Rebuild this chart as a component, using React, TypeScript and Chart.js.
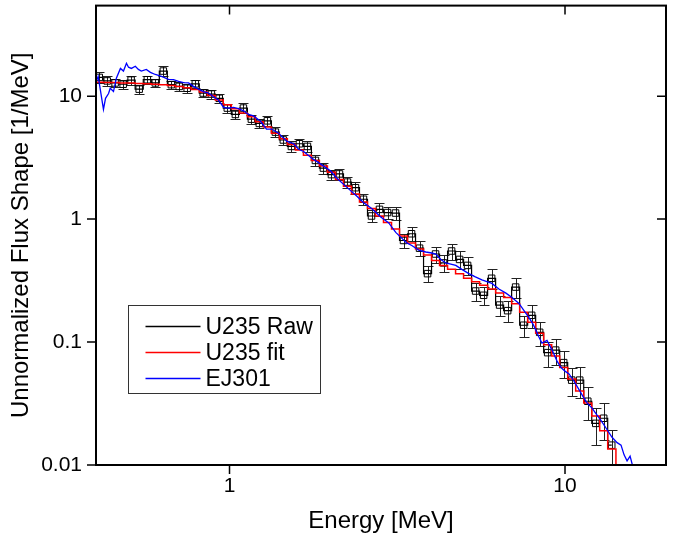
import React, { useEffect, useRef } from "react";
import { Chart, registerables } from "chart.js";

Chart.register(...registerables);

const FONT = '"Liberation Sans", Arial, sans-serif';

// ---- data ----
const binEnergy = [
  0.409, 0.432, 0.456, 0.482, 0.509, 0.538, 0.569, 0.601, 0.635, 0.671,
  0.708, 0.748, 0.791, 0.835, 0.883, 0.932, 0.985, 1.041, 1.1, 1.162,
  1.227, 1.297, 1.37, 1.447, 1.529, 1.616, 1.707, 1.803, 1.905, 2.013,
  2.127, 2.247, 2.374, 2.508, 2.65, 2.799, 2.958, 3.125, 3.301, 3.488,
  3.685, 3.893, 4.113, 4.345, 4.591, 4.85, 5.124, 5.414, 5.72, 6.043,
  6.384, 6.745, 7.126, 7.529, 7.954, 8.403, 8.878, 9.38, 9.91, 10.47,
  11.06, 11.69, 12.35, 13.04, 13.78,
];

const rawFlux = [
  14.2, 13.3, 12.8, 12.5, 13.5, 11.4, 13.6, 12.8, 16.0, 12.4,
  12.0, 11.6, 12.6, 10.6, 10.4, 9.6, 8.0, 7.1, 8.0, 6.5,
  6.0, 6.3, 5.1, 4.4, 3.9, 4.1, 3.9, 3.0, 2.6, 2.3,
  2.33, 2.0, 1.8, 1.45, 1.06, 1.2, 1.13, 1.12, 0.67, 0.76,
  0.58, 0.36, 0.52, 0.44, 0.55, 0.47, 0.42, 0.26, 0.24, 0.33,
  0.2, 0.18, 0.28, 0.137, 0.165, 0.12, 0.082, 0.086, 0.068, 0.049,
  0.049, 0.033, 0.0218, 0.024, 0.0145,
];

const rawRelErr = [
  0.1, 0.09, 0.08, 0.08, 0.08, 0.08, 0.08, 0.08, 0.09, 0.08,
  0.08, 0.08, 0.08, 0.08, 0.08, 0.08, 0.08, 0.09, 0.09, 0.09,
  0.09, 0.09, 0.09, 0.09, 0.1, 0.1, 0.1, 0.1, 0.1, 0.1,
  0.1, 0.11, 0.11, 0.11, 0.11, 0.12, 0.12, 0.12, 0.13, 0.13,
  0.14, 0.15, 0.15, 0.15, 0.15, 0.16, 0.16, 0.17, 0.17, 0.18,
  0.18, 0.19, 0.19, 0.2, 0.21, 0.22, 0.23, 0.24, 0.25, 0.26,
  0.28, 0.3, 0.33, 0.33, 0.33,
];

const fitEnergy = [
  0.39, 0.409, 0.432, 0.456, 0.482, 0.509, 0.538, 0.569, 0.601, 0.635, 0.671,
  0.708, 0.748, 0.791, 0.835, 0.883, 0.932, 0.985, 1.041, 1.1, 1.162,
  1.227, 1.297, 1.37, 1.447, 1.529, 1.616, 1.707, 1.803, 1.905, 2.013,
  2.127, 2.247, 2.374, 2.508, 2.65, 2.799, 2.958, 3.125, 3.301, 3.488,
  3.685, 3.893, 4.113, 4.345, 4.591, 4.85, 5.124, 5.414, 5.72, 6.043,
  6.384, 6.745, 7.126, 7.529, 7.954, 8.403, 8.878, 9.38, 9.91, 10.47,
  11.06, 11.69, 12.35, 13.04, 13.78, 14.6,
];

const fitFlux = [
  13.0, 13.0, 12.9, 12.9, 12.8, 12.8, 12.7, 12.6, 12.5, 12.4, 12.2,
  12.0, 11.7, 11.3, 10.8, 10.1, 9.3, 8.5, 7.9, 7.3, 6.8,
  6.2, 5.6, 5.0, 4.5, 4.05, 3.65, 3.3, 3.0, 2.7, 2.4,
  2.1, 1.85, 1.6, 1.38, 1.22, 1.06, 0.94, 0.83, 0.73, 0.64,
  0.57, 0.51, 0.46, 0.42, 0.39, 0.36, 0.33, 0.31, 0.29, 0.27,
  0.25, 0.23, 0.205, 0.175, 0.145, 0.118, 0.095, 0.077, 0.062, 0.05,
  0.04, 0.032, 0.025, 0.019, 0.0135, 0.001,
];

const ej301Energy = [
  0.4, 0.401, 0.406, 0.412, 0.421, 0.427, 0.436, 0.441, 0.451, 0.46,
  0.473, 0.483, 0.493, 0.5, 0.51, 0.524, 0.535, 0.546, 0.565, 0.581,
  0.601, 0.627, 0.658, 0.681, 0.705, 0.729, 0.755, 0.781, 0.808, 0.836,
  0.866, 0.896, 0.927, 0.96, 0.993, 1.028, 1.064, 1.101, 1.139, 1.179,
  1.237, 1.289, 1.335, 1.4, 1.48, 1.553, 1.607, 1.663, 1.757, 1.87,
  2.002, 2.086, 2.235, 2.393, 2.512, 2.653, 2.824, 2.983, 3.13, 3.26,
  3.375, 3.494, 3.664, 3.846, 4.009, 4.121, 4.264, 4.413, 4.567, 4.727,
  4.926, 5.168, 5.385, 5.652, 5.85, 6.054, 6.353, 6.668, 6.949, 7.29,
  7.548, 7.81, 8.027, 8.188, 8.36, 8.535, 8.837, 9.15, 9.47, 9.73,
  10.0, 10.28, 10.64, 11.01, 11.32, 11.63, 12.04, 12.38, 12.81, 13.25,
  13.81, 14.3, 14.69, 15.0, 15.31, 15.63, 15.96,
];

const ej301Flux = [
  17.5, 13.2, 14.5, 11.3, 7.8, 9.6, 10.5, 11.6, 10.9, 14.0,
  16.8, 16.0, 18.5, 17.2, 16.8, 17.5, 16.5, 16.0, 16.5, 15.6,
  15.0, 14.5, 13.7, 13.6, 13.2, 12.9, 12.8, 12.0, 11.4, 10.9,
  10.6, 9.9, 9.3, 8.1, 8.0, 8.1, 7.9, 7.6, 7.1, 6.9,
  6.25, 5.4, 5.4, 5.0, 4.3, 4.1, 3.7, 3.55, 3.14, 2.8,
  2.46, 2.16, 1.82, 1.54, 1.36, 1.22, 1.04, 0.93, 0.78, 0.7,
  0.64, 0.61, 0.56, 0.54, 0.53, 0.52, 0.47, 0.44, 0.43, 0.42,
  0.39, 0.36, 0.34, 0.32, 0.31, 0.3, 0.27, 0.25, 0.23, 0.206,
  0.18, 0.158, 0.14, 0.125, 0.11, 0.098, 0.103, 0.086, 0.07, 0.062,
  0.058, 0.055, 0.048, 0.041, 0.036, 0.032, 0.029, 0.026, 0.023, 0.02,
  0.0168, 0.0152, 0.0145, 0.0121, 0.0108, 0.0118, 0.0095,
];

const seriesLabels = ["U235 Raw", "U235 fit", "EJ301"];
const seriesColors = ["#000000", "#ff0000", "#0000ff"];

const xMajorTicks = [1, 10];
const xTickLabels = ["1", "10"];
const yMajorTicks = [0.01, 0.1, 1, 10];
const yTickLabels = ["0.01", "0.1", "1", "10"];

const xTitle = "Energy [MeV]";
const yTitle = "Unnormalized Flux Shape [1/MeV]";

// ---- helpers ----
function labelFor(v: number, vals: number[], labels: string[]) {
  for (let i = 0; i < vals.length; i++) {
    if (Math.abs(v - vals[i]) / vals[i] < 1e-6) return labels[i];
  }
  return null;
}
function isDecade(v: number) {
  const l = Math.log10(v);
  return Math.abs(l - Math.round(l)) < 1e-6;
}
function isIntSignificand(v: number) {
  const e = Math.floor(Math.log10(v) + 1e-9);
  const s = v / Math.pow(10, e);
  return Math.abs(s - Math.round(s)) < 1e-6;
}

const errorBarPlugin = {
  id: "errorBars",
  beforeDatasetsDraw(chart: any) {
    const { ctx, chartArea, scales } = chart;
    const x = scales.x, y = scales.y;
    ctx.save();
    ctx.beginPath();
    ctx.rect(chartArea.left, chartArea.top, chartArea.right - chartArea.left, chartArea.bottom - chartArea.top);
    ctx.clip();
    ctx.strokeStyle = "#222";
    ctx.lineWidth = 1;
    ctx.beginPath();
    for (let i = 0; i < binEnergy.length; i++) {
      const px = Math.round(x.getPixelForValue(binEnergy[i])) + 0.5;
      const v = rawFlux[i];
      const d = v * rawRelErr[i];
      const yt = Math.round(y.getPixelForValue(v + d)) + 0.5;
      const yb = Math.round(y.getPixelForValue(v - d)) + 0.5;
      ctx.moveTo(px, yt);
      ctx.lineTo(px, yb);
      ctx.moveTo(px - 5, yt);
      ctx.lineTo(px + 5, yt);
      ctx.moveTo(px - 5, yb);
      ctx.lineTo(px + 5, yb);
    }
    ctx.stroke();
    ctx.restore();
  },
};

const framePlugin = {
  id: "frame",
  afterDraw(chart: any) {
    const { ctx, chartArea, scales } = chart;
    const { left, right, top, bottom } = chartArea;
    const x = scales.x, y = scales.y;
    ctx.save();
    ctx.strokeStyle = "#000";
    ctx.lineWidth = 1.5;
    ctx.beginPath();
    x.ticks.forEach((t: any) => {
      if (!isIntSignificand(t.value)) return;
      const px = x.getPixelForValue(t.value);
      const L = isDecade(t.value) ? 9 : 5;
      ctx.moveTo(px, bottom);
      ctx.lineTo(px, bottom + L);
      ctx.moveTo(px, top);
      ctx.lineTo(px, top + L);
    });
    y.ticks.forEach((t: any) => {
      if (!isIntSignificand(t.value)) return;
      const py = y.getPixelForValue(t.value);
      const L = isDecade(t.value) ? 9 : 5;
      ctx.moveTo(left, py);
      ctx.lineTo(left - L, py);
      ctx.moveTo(right, py);
      ctx.lineTo(right - L, py);
    });
    ctx.stroke();
    ctx.lineWidth = 2;
    ctx.strokeRect(left, top, right - left, bottom - top);

    // legend
    const bx = 128.5, by = 305.5, bw = 192, bh = 88;
    ctx.fillStyle = "#fff";
    ctx.fillRect(bx, by, bw, bh);
    ctx.lineWidth = 1;
    ctx.strokeStyle = "#333";
    ctx.strokeRect(bx, by, bw, bh);
    ctx.font = `23px ${FONT}`;
    ctx.textBaseline = "middle";
    ctx.textAlign = "left";
    chart.data.datasets.forEach((ds: any, i: number) => {
      const ly = by + 21 + i * 26;
      ctx.strokeStyle = ds.borderColor;
      ctx.lineWidth = 1.5;
      ctx.beginPath();
      ctx.moveTo(bx + 17, ly);
      ctx.lineTo(bx + 72, ly);
      ctx.stroke();
      ctx.fillStyle = "#000";
      ctx.fillText(ds.label, bx + 77, ly + 1);
    });
    ctx.restore();
  },
};

export default function App() {
  const ref = useRef<HTMLCanvasElement | null>(null);
  useEffect(() => {
    if (!ref.current) return;
    const chart = new Chart(ref.current, {
      type: "line",
      data: {
        datasets: [
          {
            label: seriesLabels[0],
            data: binEnergy.map((e, i) => ({ x: e, y: rawFlux[i] })),
            borderColor: seriesColors[0],
            borderWidth: 1.2,
            stepped: "middle",
            pointStyle: "rect",
            pointRadius: 4.6,
            pointBorderWidth: 1,
            pointBorderColor: seriesColors[0],
            pointBackgroundColor: "rgba(0,0,0,0)",
            order: 3,
          },
          {
            label: seriesLabels[1],
            data: fitEnergy.map((e, i) => ({ x: e, y: fitFlux[i] })),
            borderColor: seriesColors[1],
            borderWidth: 1.5,
            stepped: "middle",
            pointRadius: 0,
            order: 2,
          },
          {
            label: seriesLabels[2],
            data: ej301Energy.map((e, i) => ({ x: e, y: ej301Flux[i] })),
            borderColor: seriesColors[2],
            borderWidth: 1.3,
            pointRadius: 0,
            tension: 0,
            order: 1,
          },
        ] as any,
      },
      plugins: [errorBarPlugin, framePlugin],
      options: {
        animation: false,
        responsive: true,
        maintainAspectRatio: false,
        layout: { padding: { left: 0, right: 19, top: 4, bottom: 0 } },
        plugins: { legend: { display: false }, tooltip: { enabled: false } },
        scales: {
          x: {
            type: "logarithmic",
            min: 0.4,
            max: 20,
            grid: { display: false, drawTicks: false },
            border: { display: false },
            ticks: {
              autoSkip: false,
              maxRotation: 0,
              padding: 9,
              color: "#000",
              font: { family: FONT, size: 21 },
              callback: (v: any) => labelFor(Number(v), xMajorTicks, xTickLabels),
            },
            title: {
              display: true,
              text: xTitle,
              color: "#000",
              font: { family: FONT, size: 24 },
              padding: { top: 0, bottom: 6 },
            },
            afterFit: (s: any) => {
              s.height = 77;
              s.paddingLeft = 0;
              s.paddingRight = 0;
            },
          },
          y: {
            type: "logarithmic",
            min: 0.01,
            max: 54.5,
            grid: { display: false, drawTicks: false },
            border: { display: false },
            ticks: {
              autoSkip: false,
              padding: 14,
              color: "#000",
              font: { family: FONT, size: 21 },
              callback: (v: any) => labelFor(Number(v), yMajorTicks, yTickLabels),
            },
            title: {
              display: true,
              text: yTitle,
              color: "#000",
              font: { family: FONT, size: 24 },
              padding: { top: 7, bottom: 0 },
            },
            afterFit: (s: any) => {
              s.width = 96;
              s.paddingTop = 0;
              s.paddingBottom = 0;
            },
          },
        },
      } as any,
    });
    return () => chart.destroy();
  }, []);
  return (
    <div style={{ position: "absolute", left: 0, top: 0, width: 685, height: 542 }}>
      <canvas ref={ref} />
    </div>
  );
}
